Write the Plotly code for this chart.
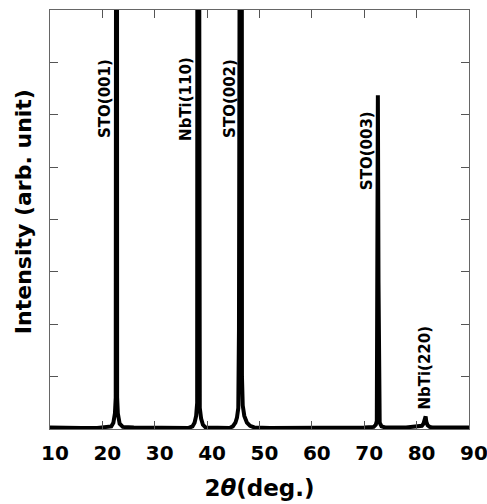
import plotly.graph_objects as go

# 2theta (deg) and intensity (arb. unit)
two_theta = [10.0, 13.0, 16.0, 19.0, 21.0, 21.7, 22.1, 22.4, 22.55, 22.62, 22.74, 22.82, 22.95, 23.3, 23.9,
             26.0, 30.0, 34.0, 36.5, 37.2, 37.6, 37.9, 38.1, 38.22, 38.34, 38.4, 38.46, 38.6,
             38.85, 39.2, 39.7, 42.0, 44.3, 44.9, 45.4, 45.7, 45.95, 46.08, 46.42,
             46.56, 46.65, 46.8, 47.1, 47.6, 48.2, 49.0, 52.0, 58.0, 64.0, 70.0, 71.8,
             72.2, 72.4, 72.5, 72.6, 72.72, 72.8, 72.95, 73.3, 74.0, 78.0, 80.6, 81.0, 81.3,
             81.5, 81.62, 81.72, 81.85, 82.1, 82.5, 83.0, 86.0, 90.0]
intensity = [0.03, 0.02, 0.02, 0.02, 0.03, 0.05, 0.12, 0.3, 0.6, 30.0, 30.0, 0.6, 0.3, 0.1, 0.04,
             0.03, 0.02, 0.02, 0.02, 0.05, 0.12, 0.25, 0.5, 30.0, 30.0, 5.7, 0.9, 0.4,
             0.2, 0.08, 0.03, 0.02, 0.02, 0.05, 0.12, 0.22, 0.4, 1.9, 30.0,
             30.0, 1.0, 0.45, 0.25, 0.12, 0.06, 0.03, 0.02, 0.02, 0.02, 0.03, 0.04,
             0.08, 0.15, 6.37, 6.37, 2.8, 0.3, 0.12, 0.05, 0.03, 0.03, 0.04, 0.06, 0.1,
             0.16, 0.24, 0.24, 0.14, 0.07, 0.04, 0.03, 0.03, 0.03]

peak_labels = ["STO(001)", "NbTi(110)", "STO(002)", "STO(003)", "NbTi(220)"]
label_x = [20.5, 35.85, 44.35, 70.67, 81.58]
label_y = [6.32, 6.31, 6.32, 5.32, 1.17]

x_ticks = [10, 20, 30, 40, 50, 60, 70, 80, 90]
y_ticks = [0, 1, 2, 3, 4, 5, 6, 7, 8]

FONT = "DejaVu Sans, Verdana, sans-serif"

fig = go.Figure()
fig.add_trace(go.Scatter(x=two_theta, y=intensity, mode="lines",
                         line=dict(color="black", width=4), showlegend=False,
                         hoverinfo="skip"))

for t, xx, yy in zip(peak_labels, label_x, label_y):
    fig.add_annotation(x=xx, y=yy, xref="x", yref="y", text="<b>" + t + "</b>",
                       textangle=-90, showarrow=False, xanchor="center", yanchor="middle",
                       font=dict(family=FONT, size=15, color="black"))

# y-axis title placed as a rotated annotation
fig.add_annotation(x=-0.063, y=0.519, xref="paper", yref="paper",
                   text="<b>Intensity (arb. unit)</b>", textangle=-90, showarrow=False,
                   xanchor="center", yanchor="middle",
                   font=dict(family=FONT, size=22, color="black"))

axis_common = dict(showgrid=False, zeroline=False, showline=True, linecolor="#666666",
                   linewidth=1, mirror="ticks", ticks="inside", ticklen=8,
                   tickcolor="#555555", tickwidth=1)

fig.update_xaxes(range=[10, 90], tickvals=x_ticks,
                 ticktext=[f"<b>\u2002{v}</b>" for v in x_ticks],
                 tickfont=dict(family=FONT, size=20, color="black"), ticklabelstandoff=6,
                 ticklabeloverflow="allow", automargin=False,
                 title=dict(text="<b>2<i>θ</i>(deg.)</b>", standoff=15,
                            font=dict(family=FONT, size=23, color="black")),
                 **axis_common)
fig.update_yaxes(range=[0, 8], tickvals=y_ticks, showticklabels=False, **axis_common)

fig.update_layout(width=487, height=504, plot_bgcolor="white", paper_bgcolor="white",
                  margin=dict(l=50, r=18, t=10, b=75))

fig.write_html("out.html")
